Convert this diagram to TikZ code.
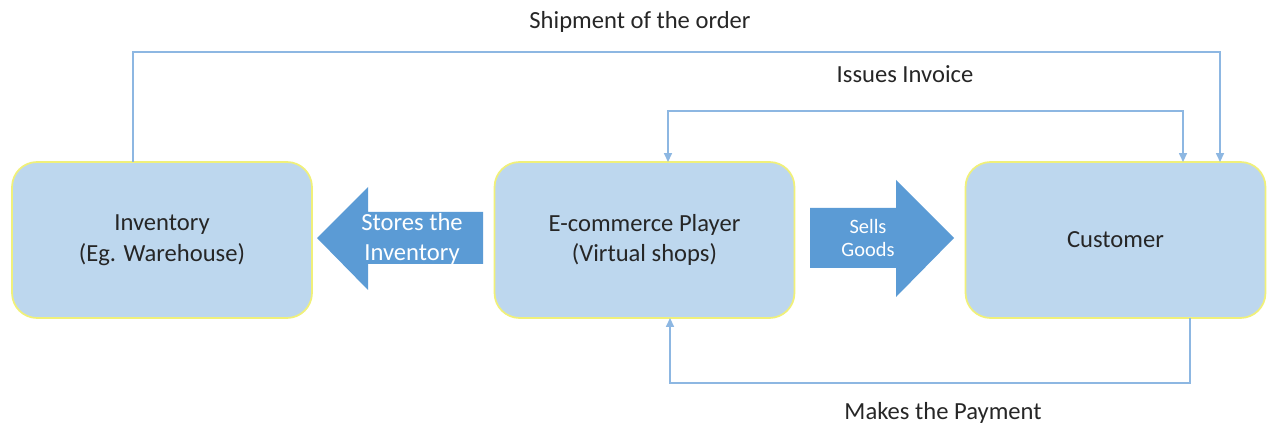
\documentclass[tikz,border=0pt]{standalone}
\usepackage{fontspec}
\setmainfont{Carlito}
\usetikzlibrary{arrows.meta}
\definecolor{boxfill}{HTML}{BDD7EE}
\definecolor{boxline}{HTML}{F0F07A}
\definecolor{arrowblue}{HTML}{5B9BD5}
\definecolor{linkblue}{HTML}{8DB7E2}
\definecolor{txt}{HTML}{262626}
\begin{document}
\begin{tikzpicture}[x=0.02cm,y=-0.02cm,
    party/.style={draw=boxline, line width=1pt, fill=boxfill, rounded corners=0.5cm,
        minimum width=6cm, minimum height=3.12cm, align=center, text=txt,
        font=\fontsize{14}{17.5}\selectfont},
    link/.style={draw=linkblue, line width=0.8pt},
    >={Triangle[length=5pt,width=4.5pt]},
    lbl/.style={text=txt, font=\fontsize{14}{17}\selectfont},
    bigarrow/.style={fill=arrowblue},
    arrowtext/.style={text=white, align=center}]
    \useasboundingbox (0,0) rectangle (1267,428);

    % Define the nodes (boxes)
    \node[party] (inv) at (162,240) {Inventory\\(Eg. Warehouse)};
    \node[party] (ecom) at (644.5,240) {E-commerce Player\\(Virtual shops)};
    \node[party] (cust) at (1115.5,240) {Customer};

    % Block arrows
    \fill[bigarrow] (483,212) -- (368,212) -- (368,187) -- (317,238) -- (368,290) -- (368,264) -- (483,264) -- cycle;
    \node[arrowtext, font=\fontsize{14}{17.5}\selectfont] (stores) at (412,239) {Stores the\\Inventory};
    \fill[bigarrow] (810,208) -- (896,208) -- (896,180) -- (954,238) -- (896,297) -- (896,268) -- (810,268) -- cycle;
    \node[arrowtext, font=\fontsize{11.6}{13}\selectfont] (sells) at (868,238) {Sells\\Goods};

    % Connector ends on the boxes
    \coordinate (shipA) at (133,162);
    \coordinate (shipB) at (1220,162);
    \coordinate (invoA) at (668,162);
    \coordinate (invoB) at (1183,162);
    \coordinate (payA) at (1190,318);
    \coordinate (payB) at (670,318);

    % Draw lines
    \draw[link,->] (shipA) -- ++(0,-110) -| (shipB);
    \draw[link,<->] (invoA) -- ++(0,-51) -| (invoB);
    \draw[link,->] (payA) -- ++(0,65) -| (payB);

    % Line labels
    \node[lbl] (shiplbl) at (640,22) {Shipment of the order};
    \node[lbl] (involbl) at (905,74) {Issues Invoice};
    \node[lbl] (paylbl) at (943,413) {Makes the Payment};
\end{tikzpicture}
\end{document}
